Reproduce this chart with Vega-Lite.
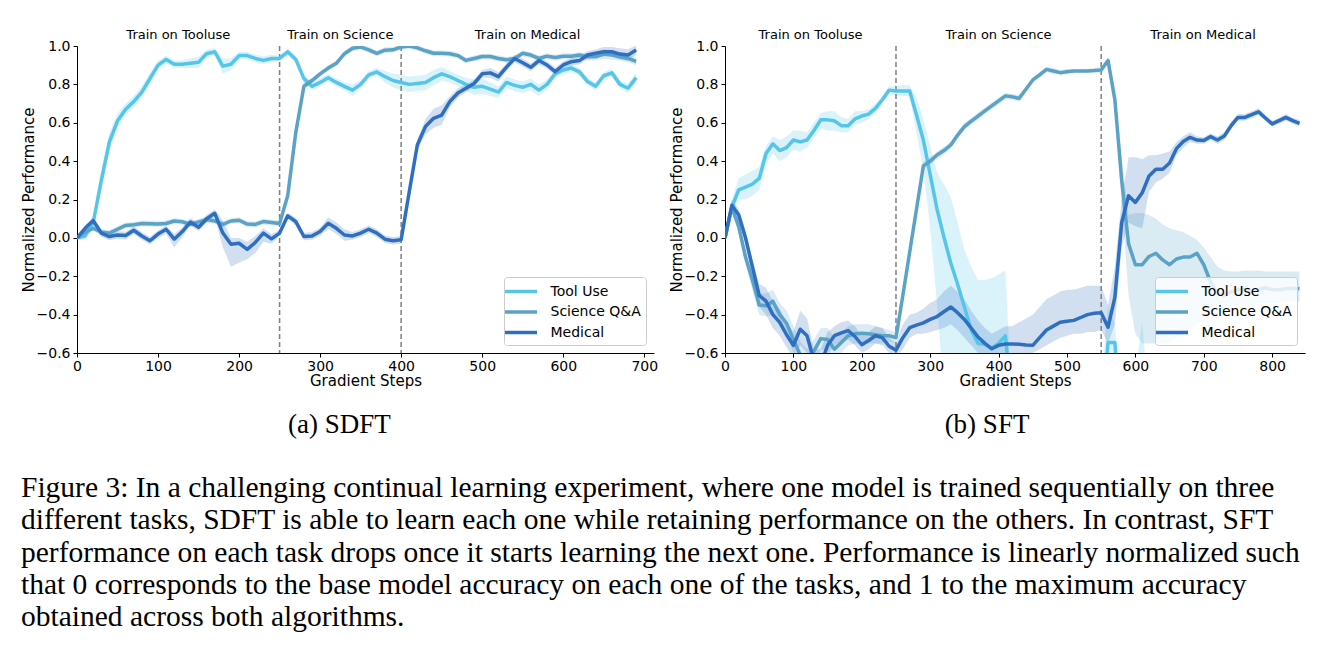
{
"$schema": "https://vega.github.io/schema/vega-lite/v6.json",
"background": "white",
"padding": {"left": 21, "top": 29, "right": 10, "bottom": 5},
"spacing": 11,
"resolve": {"scale": {"color": "independent", "fill": "independent"}, "legend": {"color": "independent", "fill": "independent"}},
"config": {
  "view": {"stroke": null},
  "axis": {"domainColor": "black", "tickColor": "black", "labelColor": "black", "titleColor": "black", "labelFont": "DejaVu Sans", "titleFont": "DejaVu Sans", "labelFontSize": 14, "titleFontSize": 15, "titleFontWeight": "normal", "grid": false, "tickSize": 4, "domainWidth": 1, "tickWidth": 1, "labelPadding": 3, "labelFlush": false, "labelOverlap": false},
  "legend": {"orient": "bottom-right", "offset": 8, "fillColor": "rgba(255,255,255,0.8)", "strokeColor": "#cccccc", "cornerRadius": 3, "padding": 5, "labelFont": "DejaVu Sans", "labelFontSize": 14, "labelColor": "black", "symbolType": "M-2.13,0H2.13", "symbolSize": 225, "symbolStrokeWidth": 3.5, "symbolOffset": 2.5, "labelOffset": 20, "rowPadding": 3.5},
  "title": {"font": "Liberation Serif", "fontSize": 27, "fontWeight": "normal", "color": "black"}
},
"title": {"text": ["Figure 3: In a challenging continual learning experiment, where one model is trained sequentially on three", "different tasks, SDFT is able to learn each one while retaining performance on the others. In contrast, SFT", "performance on each task drops once it starts learning the next one. Performance is linearly normalized such", "that 0 corresponds to the base model accuracy on each one of the tasks, and 1 to the maximum accuracy", "obtained across both algorithms."], "orient": "bottom", "anchor": "start", "frame": "bounds", "offset": 36, "lineHeight": 32.3, "fontSize": 29.5},
"datasets": {
"va": [{"x": 250}, {"x": 400}],
"vb": [{"x": 250}, {"x": 550}],
"ra": [{"x": 125, "l": "Train on Tooluse"}, {"x": 325, "l": "Train on Science"}, {"x": 556, "l": "Train on Medical"}],
"rb": [{"x": 125, "l": "Train on Tooluse"}, {"x": 400, "l": "Train on Science"}, {"x": 699, "l": "Train on Medical"}],
"a": [
{"t":"Tool Use","x":0,"y":0,"lo":-0.01,"hi":0.01},
{"t":"Tool Use","x":10,"y":0.01,"lo":-0.01,"hi":0.03},
{"t":"Tool Use","x":20,"y":0.08,"lo":0.05,"hi":0.11},
{"t":"Tool Use","x":30,"y":0.30,"lo":0.25,"hi":0.35},
{"t":"Tool Use","x":40,"y":0.50,"lo":0.45,"hi":0.55},
{"t":"Tool Use","x":50,"y":0.61,"lo":0.57,"hi":0.65},
{"t":"Tool Use","x":60,"y":0.67,"lo":0.64,"hi":0.70},
{"t":"Tool Use","x":70,"y":0.71,"lo":0.68,"hi":0.74},
{"t":"Tool Use","x":80,"y":0.76,"lo":0.73,"hi":0.79},
{"t":"Tool Use","x":90,"y":0.83,"lo":0.80,"hi":0.86},
{"t":"Tool Use","x":100,"y":0.90,"lo":0.875,"hi":0.925},
{"t":"Tool Use","x":110,"y":0.93,"lo":0.91,"hi":0.95},
{"t":"Tool Use","x":120,"y":0.905,"lo":0.885,"hi":0.925},
{"t":"Tool Use","x":130,"y":0.905,"lo":0.885,"hi":0.925},
{"t":"Tool Use","x":140,"y":0.91,"lo":0.885,"hi":0.935},
{"t":"Tool Use","x":150,"y":0.915,"lo":0.885,"hi":0.945},
{"t":"Tool Use","x":160,"y":0.96,"lo":0.94,"hi":0.98},
{"t":"Tool Use","x":170,"y":0.97,"lo":0.95,"hi":0.99},
{"t":"Tool Use","x":180,"y":0.895,"lo":0.855,"hi":0.935},
{"t":"Tool Use","x":190,"y":0.905,"lo":0.875,"hi":0.935},
{"t":"Tool Use","x":200,"y":0.95,"lo":0.93,"hi":0.97},
{"t":"Tool Use","x":210,"y":0.95,"lo":0.93,"hi":0.97},
{"t":"Tool Use","x":220,"y":0.935,"lo":0.915,"hi":0.955},
{"t":"Tool Use","x":230,"y":0.925,"lo":0.905,"hi":0.945},
{"t":"Tool Use","x":240,"y":0.935,"lo":0.915,"hi":0.955},
{"t":"Tool Use","x":250,"y":0.935,"lo":0.92,"hi":0.95},
{"t":"Tool Use","x":260,"y":0.97,"lo":0.955,"hi":0.985},
{"t":"Tool Use","x":270,"y":0.93,"lo":0.91,"hi":0.95},
{"t":"Tool Use","x":280,"y":0.83,"lo":0.81,"hi":0.85},
{"t":"Tool Use","x":290,"y":0.79,"lo":0.77,"hi":0.81},
{"t":"Tool Use","x":300,"y":0.81,"lo":0.79,"hi":0.83},
{"t":"Tool Use","x":310,"y":0.835,"lo":0.815,"hi":0.855},
{"t":"Tool Use","x":320,"y":0.81,"lo":0.79,"hi":0.83},
{"t":"Tool Use","x":330,"y":0.79,"lo":0.77,"hi":0.81},
{"t":"Tool Use","x":340,"y":0.77,"lo":0.74,"hi":0.80},
{"t":"Tool Use","x":350,"y":0.80,"lo":0.78,"hi":0.82},
{"t":"Tool Use","x":360,"y":0.85,"lo":0.83,"hi":0.87},
{"t":"Tool Use","x":370,"y":0.865,"lo":0.845,"hi":0.885},
{"t":"Tool Use","x":380,"y":0.84,"lo":0.81,"hi":0.87},
{"t":"Tool Use","x":390,"y":0.82,"lo":0.785,"hi":0.855},
{"t":"Tool Use","x":400,"y":0.81,"lo":0.77,"hi":0.85},
{"t":"Tool Use","x":410,"y":0.80,"lo":0.76,"hi":0.84},
{"t":"Tool Use","x":420,"y":0.805,"lo":0.765,"hi":0.845},
{"t":"Tool Use","x":430,"y":0.81,"lo":0.77,"hi":0.85},
{"t":"Tool Use","x":440,"y":0.835,"lo":0.795,"hi":0.875},
{"t":"Tool Use","x":450,"y":0.855,"lo":0.82,"hi":0.89},
{"t":"Tool Use","x":460,"y":0.84,"lo":0.81,"hi":0.87},
{"t":"Tool Use","x":470,"y":0.82,"lo":0.79,"hi":0.85},
{"t":"Tool Use","x":480,"y":0.80,"lo":0.765,"hi":0.835},
{"t":"Tool Use","x":490,"y":0.785,"lo":0.745,"hi":0.825},
{"t":"Tool Use","x":500,"y":0.79,"lo":0.75,"hi":0.83},
{"t":"Tool Use","x":510,"y":0.775,"lo":0.74,"hi":0.81},
{"t":"Tool Use","x":520,"y":0.76,"lo":0.73,"hi":0.79},
{"t":"Tool Use","x":530,"y":0.81,"lo":0.78,"hi":0.84},
{"t":"Tool Use","x":540,"y":0.795,"lo":0.765,"hi":0.825},
{"t":"Tool Use","x":550,"y":0.785,"lo":0.755,"hi":0.815},
{"t":"Tool Use","x":560,"y":0.80,"lo":0.77,"hi":0.83},
{"t":"Tool Use","x":570,"y":0.77,"lo":0.74,"hi":0.80},
{"t":"Tool Use","x":580,"y":0.80,"lo":0.775,"hi":0.825},
{"t":"Tool Use","x":590,"y":0.855,"lo":0.835,"hi":0.875},
{"t":"Tool Use","x":600,"y":0.875,"lo":0.855,"hi":0.895},
{"t":"Tool Use","x":610,"y":0.885,"lo":0.865,"hi":0.905},
{"t":"Tool Use","x":620,"y":0.865,"lo":0.845,"hi":0.885},
{"t":"Tool Use","x":630,"y":0.815,"lo":0.795,"hi":0.835},
{"t":"Tool Use","x":640,"y":0.79,"lo":0.77,"hi":0.81},
{"t":"Tool Use","x":650,"y":0.845,"lo":0.825,"hi":0.865},
{"t":"Tool Use","x":660,"y":0.86,"lo":0.84,"hi":0.88},
{"t":"Tool Use","x":670,"y":0.80,"lo":0.78,"hi":0.82},
{"t":"Tool Use","x":680,"y":0.78,"lo":0.755,"hi":0.805},
{"t":"Tool Use","x":690,"y":0.835,"lo":0.81,"hi":0.86},
{"t":"Science Q&A","x":0,"y":0,"lo":-0.01,"hi":0.01},
{"t":"Science Q&A","x":10,"y":0.03,"lo":0.015,"hi":0.045},
{"t":"Science Q&A","x":20,"y":0.05,"lo":0.035,"hi":0.065},
{"t":"Science Q&A","x":30,"y":0.03,"lo":0.015,"hi":0.045},
{"t":"Science Q&A","x":40,"y":0.025,"lo":0.01,"hi":0.04},
{"t":"Science Q&A","x":50,"y":0.045,"lo":0.03,"hi":0.06},
{"t":"Science Q&A","x":60,"y":0.065,"lo":0.05,"hi":0.08},
{"t":"Science Q&A","x":70,"y":0.068,"lo":0.053,"hi":0.083},
{"t":"Science Q&A","x":80,"y":0.075,"lo":0.06,"hi":0.09},
{"t":"Science Q&A","x":90,"y":0.074,"lo":0.059,"hi":0.089},
{"t":"Science Q&A","x":100,"y":0.072,"lo":0.057,"hi":0.087},
{"t":"Science Q&A","x":110,"y":0.075,"lo":0.06,"hi":0.09},
{"t":"Science Q&A","x":120,"y":0.088,"lo":0.073,"hi":0.103},
{"t":"Science Q&A","x":130,"y":0.084,"lo":0.069,"hi":0.099},
{"t":"Science Q&A","x":140,"y":0.07,"lo":0.055,"hi":0.085},
{"t":"Science Q&A","x":150,"y":0.083,"lo":0.068,"hi":0.098},
{"t":"Science Q&A","x":160,"y":0.095,"lo":0.08,"hi":0.11},
{"t":"Science Q&A","x":170,"y":0.088,"lo":0.073,"hi":0.103},
{"t":"Science Q&A","x":180,"y":0.07,"lo":0.055,"hi":0.085},
{"t":"Science Q&A","x":190,"y":0.088,"lo":0.073,"hi":0.103},
{"t":"Science Q&A","x":200,"y":0.092,"lo":0.077,"hi":0.107},
{"t":"Science Q&A","x":210,"y":0.072,"lo":0.057,"hi":0.087},
{"t":"Science Q&A","x":220,"y":0.07,"lo":0.055,"hi":0.085},
{"t":"Science Q&A","x":230,"y":0.085,"lo":0.07,"hi":0.1},
{"t":"Science Q&A","x":240,"y":0.08,"lo":0.065,"hi":0.095},
{"t":"Science Q&A","x":250,"y":0.075,"lo":0.06,"hi":0.09},
{"t":"Science Q&A","x":260,"y":0.22,"lo":0.19,"hi":0.25},
{"t":"Science Q&A","x":270,"y":0.55,"lo":0.52,"hi":0.58},
{"t":"Science Q&A","x":280,"y":0.79,"lo":0.77,"hi":0.81},
{"t":"Science Q&A","x":290,"y":0.82,"lo":0.805,"hi":0.835},
{"t":"Science Q&A","x":300,"y":0.855,"lo":0.84,"hi":0.87},
{"t":"Science Q&A","x":310,"y":0.885,"lo":0.87,"hi":0.9},
{"t":"Science Q&A","x":320,"y":0.91,"lo":0.895,"hi":0.925},
{"t":"Science Q&A","x":330,"y":0.96,"lo":0.945,"hi":0.975},
{"t":"Science Q&A","x":340,"y":0.988,"lo":0.973,"hi":1.003},
{"t":"Science Q&A","x":350,"y":0.995,"lo":0.98,"hi":1.01},
{"t":"Science Q&A","x":360,"y":0.98,"lo":0.965,"hi":0.995},
{"t":"Science Q&A","x":370,"y":0.962,"lo":0.947,"hi":0.977},
{"t":"Science Q&A","x":380,"y":0.978,"lo":0.963,"hi":0.993},
{"t":"Science Q&A","x":390,"y":0.98,"lo":0.965,"hi":0.995},
{"t":"Science Q&A","x":400,"y":0.995,"lo":0.98,"hi":1.01},
{"t":"Science Q&A","x":410,"y":1.0,"lo":0.985,"hi":1.015},
{"t":"Science Q&A","x":420,"y":0.99,"lo":0.975,"hi":1.005},
{"t":"Science Q&A","x":430,"y":0.975,"lo":0.96,"hi":0.99},
{"t":"Science Q&A","x":440,"y":0.962,"lo":0.947,"hi":0.977},
{"t":"Science Q&A","x":450,"y":0.962,"lo":0.947,"hi":0.977},
{"t":"Science Q&A","x":460,"y":0.96,"lo":0.945,"hi":0.975},
{"t":"Science Q&A","x":470,"y":0.95,"lo":0.935,"hi":0.965},
{"t":"Science Q&A","x":480,"y":0.925,"lo":0.91,"hi":0.94},
{"t":"Science Q&A","x":490,"y":0.935,"lo":0.92,"hi":0.95},
{"t":"Science Q&A","x":500,"y":0.945,"lo":0.93,"hi":0.96},
{"t":"Science Q&A","x":510,"y":0.945,"lo":0.93,"hi":0.96},
{"t":"Science Q&A","x":520,"y":0.935,"lo":0.92,"hi":0.95},
{"t":"Science Q&A","x":530,"y":0.928,"lo":0.913,"hi":0.943},
{"t":"Science Q&A","x":540,"y":0.935,"lo":0.92,"hi":0.95},
{"t":"Science Q&A","x":550,"y":0.962,"lo":0.947,"hi":0.977},
{"t":"Science Q&A","x":560,"y":0.953,"lo":0.938,"hi":0.968},
{"t":"Science Q&A","x":570,"y":0.935,"lo":0.92,"hi":0.95},
{"t":"Science Q&A","x":580,"y":0.947,"lo":0.932,"hi":0.962},
{"t":"Science Q&A","x":590,"y":0.94,"lo":0.925,"hi":0.955},
{"t":"Science Q&A","x":600,"y":0.947,"lo":0.932,"hi":0.962},
{"t":"Science Q&A","x":610,"y":0.947,"lo":0.932,"hi":0.962},
{"t":"Science Q&A","x":620,"y":0.953,"lo":0.938,"hi":0.968},
{"t":"Science Q&A","x":630,"y":0.944,"lo":0.924,"hi":0.964},
{"t":"Science Q&A","x":640,"y":0.944,"lo":0.924,"hi":0.964},
{"t":"Science Q&A","x":650,"y":0.958,"lo":0.933,"hi":0.983},
{"t":"Science Q&A","x":660,"y":0.953,"lo":0.928,"hi":0.978},
{"t":"Science Q&A","x":670,"y":0.944,"lo":0.924,"hi":0.964},
{"t":"Science Q&A","x":680,"y":0.935,"lo":0.915,"hi":0.955},
{"t":"Science Q&A","x":690,"y":0.92,"lo":0.9,"hi":0.94},
{"t":"Medical","x":0,"y":0,"lo":-0.01,"hi":0.01},
{"t":"Medical","x":10,"y":0.05,"lo":0.035,"hi":0.065},
{"t":"Medical","x":20,"y":0.09,"lo":0.07,"hi":0.11},
{"t":"Medical","x":30,"y":0.025,"lo":0.005,"hi":0.045},
{"t":"Medical","x":40,"y":0.007,"lo":-0.013,"hi":0.027},
{"t":"Medical","x":50,"y":0.015,"lo":-0.005,"hi":0.035},
{"t":"Medical","x":60,"y":0.012,"lo":-0.008,"hi":0.032},
{"t":"Medical","x":70,"y":0.04,"lo":0.02,"hi":0.06},
{"t":"Medical","x":80,"y":0.01,"lo":-0.01,"hi":0.03},
{"t":"Medical","x":90,"y":-0.015,"lo":-0.035,"hi":0.005},
{"t":"Medical","x":100,"y":0.02,"lo":0.0,"hi":0.04},
{"t":"Medical","x":110,"y":0.045,"lo":0.02,"hi":0.065},
{"t":"Medical","x":120,"y":-0.007,"lo":-0.05,"hi":0.02},
{"t":"Medical","x":130,"y":0.033,"lo":0.005,"hi":0.055},
{"t":"Medical","x":140,"y":0.083,"lo":0.063,"hi":0.103},
{"t":"Medical","x":150,"y":0.055,"lo":0.035,"hi":0.075},
{"t":"Medical","x":160,"y":0.10,"lo":0.08,"hi":0.12},
{"t":"Medical","x":170,"y":0.128,"lo":0.108,"hi":0.148},
{"t":"Medical","x":180,"y":0.025,"lo":-0.05,"hi":0.09},
{"t":"Medical","x":190,"y":-0.033,"lo":-0.15,"hi":0.0},
{"t":"Medical","x":200,"y":-0.028,"lo":-0.13,"hi":0.0},
{"t":"Medical","x":210,"y":-0.06,"lo":-0.11,"hi":-0.02},
{"t":"Medical","x":220,"y":-0.024,"lo":-0.08,"hi":0.01},
{"t":"Medical","x":230,"y":0.025,"lo":-0.02,"hi":0.05},
{"t":"Medical","x":240,"y":-0.005,"lo":-0.03,"hi":0.02},
{"t":"Medical","x":250,"y":0.025,"lo":0.01,"hi":0.04},
{"t":"Medical","x":260,"y":0.115,"lo":0.1,"hi":0.13},
{"t":"Medical","x":270,"y":0.085,"lo":0.065,"hi":0.105},
{"t":"Medical","x":280,"y":0.007,"lo":-0.013,"hi":0.027},
{"t":"Medical","x":290,"y":0.01,"lo":-0.01,"hi":0.03},
{"t":"Medical","x":300,"y":0.033,"lo":0.013,"hi":0.053},
{"t":"Medical","x":310,"y":0.076,"lo":0.046,"hi":0.106},
{"t":"Medical","x":320,"y":0.05,"lo":0.02,"hi":0.08},
{"t":"Medical","x":330,"y":0.015,"lo":-0.015,"hi":0.045},
{"t":"Medical","x":340,"y":0.01,"lo":-0.01,"hi":0.03},
{"t":"Medical","x":350,"y":0.025,"lo":0.005,"hi":0.045},
{"t":"Medical","x":360,"y":0.045,"lo":0.025,"hi":0.065},
{"t":"Medical","x":370,"y":0.025,"lo":0.005,"hi":0.045},
{"t":"Medical","x":380,"y":-0.007,"lo":-0.027,"hi":0.013},
{"t":"Medical","x":390,"y":-0.015,"lo":-0.035,"hi":0.005},
{"t":"Medical","x":400,"y":-0.01,"lo":-0.03,"hi":0.01},
{"t":"Medical","x":410,"y":0.24,"lo":0.21,"hi":0.27},
{"t":"Medical","x":420,"y":0.485,"lo":0.455,"hi":0.515},
{"t":"Medical","x":430,"y":0.58,"lo":0.54,"hi":0.62},
{"t":"Medical","x":440,"y":0.623,"lo":0.573,"hi":0.673},
{"t":"Medical","x":450,"y":0.64,"lo":0.59,"hi":0.69},
{"t":"Medical","x":460,"y":0.71,"lo":0.68,"hi":0.74},
{"t":"Medical","x":470,"y":0.755,"lo":0.73,"hi":0.78},
{"t":"Medical","x":480,"y":0.78,"lo":0.76,"hi":0.80},
{"t":"Medical","x":490,"y":0.805,"lo":0.785,"hi":0.825},
{"t":"Medical","x":500,"y":0.855,"lo":0.835,"hi":0.875},
{"t":"Medical","x":510,"y":0.86,"lo":0.835,"hi":0.885},
{"t":"Medical","x":520,"y":0.84,"lo":0.815,"hi":0.865},
{"t":"Medical","x":530,"y":0.89,"lo":0.87,"hi":0.91},
{"t":"Medical","x":540,"y":0.935,"lo":0.915,"hi":0.955},
{"t":"Medical","x":550,"y":0.913,"lo":0.893,"hi":0.933},
{"t":"Medical","x":560,"y":0.889,"lo":0.869,"hi":0.909},
{"t":"Medical","x":570,"y":0.924,"lo":0.904,"hi":0.944},
{"t":"Medical","x":580,"y":0.901,"lo":0.881,"hi":0.921},
{"t":"Medical","x":590,"y":0.866,"lo":0.846,"hi":0.886},
{"t":"Medical","x":600,"y":0.901,"lo":0.881,"hi":0.921},
{"t":"Medical","x":610,"y":0.918,"lo":0.898,"hi":0.938},
{"t":"Medical","x":620,"y":0.924,"lo":0.904,"hi":0.944},
{"t":"Medical","x":630,"y":0.953,"lo":0.933,"hi":0.973},
{"t":"Medical","x":640,"y":0.962,"lo":0.942,"hi":0.982},
{"t":"Medical","x":650,"y":0.97,"lo":0.945,"hi":0.995},
{"t":"Medical","x":660,"y":0.97,"lo":0.945,"hi":0.995},
{"t":"Medical","x":670,"y":0.958,"lo":0.928,"hi":0.988},
{"t":"Medical","x":680,"y":0.953,"lo":0.923,"hi":0.983},
{"t":"Medical","x":690,"y":0.979,"lo":0.954,"hi":1.004}
],
"b": [
{"t":"Tool Use","x":0,"y":0,"lo":-0.02,"hi":0.02},
{"t":"Tool Use","x":10,"y":0.16,"lo":0.12,"hi":0.20},
{"t":"Tool Use","x":20,"y":0.25,"lo":0.20,"hi":0.31},
{"t":"Tool Use","x":30,"y":0.265,"lo":0.20,"hi":0.33},
{"t":"Tool Use","x":40,"y":0.28,"lo":0.22,"hi":0.35},
{"t":"Tool Use","x":50,"y":0.31,"lo":0.25,"hi":0.37},
{"t":"Tool Use","x":60,"y":0.44,"lo":0.38,"hi":0.48},
{"t":"Tool Use","x":70,"y":0.49,"lo":0.44,"hi":0.53},
{"t":"Tool Use","x":80,"y":0.455,"lo":0.40,"hi":0.51},
{"t":"Tool Use","x":90,"y":0.47,"lo":0.42,"hi":0.53},
{"t":"Tool Use","x":100,"y":0.51,"lo":0.46,"hi":0.56},
{"t":"Tool Use","x":110,"y":0.50,"lo":0.45,"hi":0.56},
{"t":"Tool Use","x":120,"y":0.51,"lo":0.47,"hi":0.55},
{"t":"Tool Use","x":130,"y":0.56,"lo":0.52,"hi":0.60},
{"t":"Tool Use","x":140,"y":0.615,"lo":0.57,"hi":0.65},
{"t":"Tool Use","x":150,"y":0.615,"lo":0.56,"hi":0.66},
{"t":"Tool Use","x":160,"y":0.61,"lo":0.56,"hi":0.66},
{"t":"Tool Use","x":170,"y":0.585,"lo":0.55,"hi":0.63},
{"t":"Tool Use","x":180,"y":0.585,"lo":0.55,"hi":0.62},
{"t":"Tool Use","x":190,"y":0.62,"lo":0.59,"hi":0.66},
{"t":"Tool Use","x":200,"y":0.635,"lo":0.60,"hi":0.66},
{"t":"Tool Use","x":210,"y":0.645,"lo":0.62,"hi":0.67},
{"t":"Tool Use","x":220,"y":0.675,"lo":0.65,"hi":0.70},
{"t":"Tool Use","x":230,"y":0.72,"lo":0.70,"hi":0.74},
{"t":"Tool Use","x":240,"y":0.77,"lo":0.75,"hi":0.79},
{"t":"Tool Use","x":250,"y":0.765,"lo":0.74,"hi":0.79},
{"t":"Tool Use","x":260,"y":0.765,"lo":0.74,"hi":0.795},
{"t":"Tool Use","x":270,"y":0.765,"lo":0.74,"hi":0.795},
{"t":"Tool Use","x":280,"y":0.64,"lo":0.55,"hi":0.73},
{"t":"Tool Use","x":290,"y":0.51,"lo":0.35,"hi":0.62},
{"t":"Tool Use","x":300,"y":0.33,"lo":0.05,"hi":0.48},
{"t":"Tool Use","x":310,"y":0.15,"lo":-0.35,"hi":0.34},
{"t":"Tool Use","x":320,"y":0.005,"lo":-0.8,"hi":0.28},
{"t":"Tool Use","x":330,"y":-0.13,"lo":-1,"hi":0.21},
{"t":"Tool Use","x":340,"y":-0.24,"lo":-1,"hi":0.08},
{"t":"Tool Use","x":350,"y":-0.36,"lo":-1,"hi":-0.06},
{"t":"Tool Use","x":360,"y":-0.48,"lo":-1,"hi":-0.15},
{"t":"Tool Use","x":370,"y":-0.55,"lo":-1,"hi":-0.22},
{"t":"Tool Use","x":380,"y":-0.555,"lo":-1,"hi":-0.22},
{"t":"Tool Use","x":390,"y":-0.575,"lo":-1,"hi":-0.21},
{"t":"Tool Use","x":400,"y":-0.55,"lo":-1,"hi":-0.19},
{"t":"Tool Use","x":410,"y":-0.51,"lo":-1,"hi":-0.17},
{"t":"Tool Use","x":420,"y":-0.9,"lo":-1,"hi":-0.9},
{"t":"Tool Use","x":430,"y":-1,"lo":-1,"hi":-1},
{"t":"Tool Use","x":440,"y":-1,"lo":-1,"hi":-1},
{"t":"Tool Use","x":450,"y":-1,"lo":-1,"hi":-1},
{"t":"Tool Use","x":460,"y":-1,"lo":-1,"hi":-1},
{"t":"Tool Use","x":470,"y":-1,"lo":-1,"hi":-1},
{"t":"Tool Use","x":480,"y":-1,"lo":-1,"hi":-1},
{"t":"Tool Use","x":490,"y":-1,"lo":-1,"hi":-1},
{"t":"Tool Use","x":500,"y":-1,"lo":-1,"hi":-1},
{"t":"Tool Use","x":510,"y":-1,"lo":-1,"hi":-1},
{"t":"Tool Use","x":520,"y":-1,"lo":-1,"hi":-1},
{"t":"Tool Use","x":530,"y":-1,"lo":-1,"hi":-1},
{"t":"Tool Use","x":540,"y":-1,"lo":-1,"hi":-1},
{"t":"Tool Use","x":550,"y":-1,"lo":-1,"hi":-0.75},
{"t":"Tool Use","x":560,"y":-0.545,"lo":-1,"hi":-0.35},
{"t":"Tool Use","x":570,"y":-0.545,"lo":-1,"hi":-0.45},
{"t":"Tool Use","x":580,"y":-1,"lo":-1,"hi":-0.9},
{"t":"Tool Use","x":590,"y":-1,"lo":-1,"hi":-0.9},
{"t":"Tool Use","x":600,"y":-1,"lo":-1,"hi":-0.7},
{"t":"Tool Use","x":610,"y":-1,"lo":-1,"hi":-0.44},
{"t":"Tool Use","x":620,"y":-1,"lo":-1,"hi":-0.85},
{"t":"Tool Use","x":630,"y":-1,"lo":-1,"hi":-1},
{"t":"Tool Use","x":640,"y":-1,"lo":-1,"hi":-1},
{"t":"Tool Use","x":650,"y":-1,"lo":-1,"hi":-1},
{"t":"Tool Use","x":660,"y":-1,"lo":-1,"hi":-1},
{"t":"Tool Use","x":670,"y":-1,"lo":-1,"hi":-1},
{"t":"Tool Use","x":680,"y":-1,"lo":-1,"hi":-1},
{"t":"Tool Use","x":690,"y":-1,"lo":-1,"hi":-1},
{"t":"Tool Use","x":700,"y":-1,"lo":-1,"hi":-1},
{"t":"Tool Use","x":710,"y":-1,"lo":-1,"hi":-1},
{"t":"Tool Use","x":720,"y":-1,"lo":-1,"hi":-1},
{"t":"Tool Use","x":730,"y":-1,"lo":-1,"hi":-1},
{"t":"Tool Use","x":740,"y":-1,"lo":-1,"hi":-1},
{"t":"Tool Use","x":750,"y":-1,"lo":-1,"hi":-1},
{"t":"Tool Use","x":760,"y":-1,"lo":-1,"hi":-1},
{"t":"Tool Use","x":770,"y":-1,"lo":-1,"hi":-1},
{"t":"Tool Use","x":780,"y":-1,"lo":-1,"hi":-1},
{"t":"Tool Use","x":790,"y":-1,"lo":-1,"hi":-1},
{"t":"Tool Use","x":800,"y":-1,"lo":-1,"hi":-1},
{"t":"Tool Use","x":810,"y":-1,"lo":-1,"hi":-1},
{"t":"Tool Use","x":820,"y":-1,"lo":-1,"hi":-1},
{"t":"Tool Use","x":830,"y":-1,"lo":-1,"hi":-1},
{"t":"Tool Use","x":840,"y":-1,"lo":-1,"hi":-1},
{"t":"Science Q&A","x":0,"y":0,"lo":-0.02,"hi":0.02},
{"t":"Science Q&A","x":10,"y":0.16,"lo":0.13,"hi":0.19},
{"t":"Science Q&A","x":20,"y":0.06,"lo":0.02,"hi":0.10},
{"t":"Science Q&A","x":30,"y":-0.10,"lo":-0.14,"hi":-0.06},
{"t":"Science Q&A","x":40,"y":-0.22,"lo":-0.27,"hi":-0.17},
{"t":"Science Q&A","x":50,"y":-0.35,"lo":-0.40,"hi":-0.29},
{"t":"Science Q&A","x":60,"y":-0.354,"lo":-0.41,"hi":-0.29},
{"t":"Science Q&A","x":70,"y":-0.33,"lo":-0.40,"hi":-0.27},
{"t":"Science Q&A","x":80,"y":-0.40,"lo":-0.46,"hi":-0.34},
{"t":"Science Q&A","x":90,"y":-0.445,"lo":-0.51,"hi":-0.38},
{"t":"Science Q&A","x":100,"y":-0.53,"lo":-0.60,"hi":-0.46},
{"t":"Science Q&A","x":110,"y":-0.61,"lo":-0.68,"hi":-0.54},
{"t":"Science Q&A","x":120,"y":-0.65,"lo":-0.72,"hi":-0.58},
{"t":"Science Q&A","x":130,"y":-0.59,"lo":-0.66,"hi":-0.53},
{"t":"Science Q&A","x":140,"y":-0.525,"lo":-0.58,"hi":-0.47},
{"t":"Science Q&A","x":150,"y":-0.53,"lo":-0.59,"hi":-0.47},
{"t":"Science Q&A","x":160,"y":-0.58,"lo":-0.64,"hi":-0.52},
{"t":"Science Q&A","x":170,"y":-0.545,"lo":-0.60,"hi":-0.49},
{"t":"Science Q&A","x":180,"y":-0.51,"lo":-0.56,"hi":-0.46},
{"t":"Science Q&A","x":190,"y":-0.50,"lo":-0.55,"hi":-0.45},
{"t":"Science Q&A","x":200,"y":-0.497,"lo":-0.55,"hi":-0.45},
{"t":"Science Q&A","x":210,"y":-0.50,"lo":-0.55,"hi":-0.45},
{"t":"Science Q&A","x":220,"y":-0.505,"lo":-0.55,"hi":-0.46},
{"t":"Science Q&A","x":230,"y":-0.51,"lo":-0.55,"hi":-0.47},
{"t":"Science Q&A","x":240,"y":-0.51,"lo":-0.54,"hi":-0.48},
{"t":"Science Q&A","x":250,"y":-0.52,"lo":-0.55,"hi":-0.49},
{"t":"Science Q&A","x":260,"y":-0.30,"lo":-0.33,"hi":-0.27},
{"t":"Science Q&A","x":270,"y":-0.075,"lo":-0.10,"hi":-0.05},
{"t":"Science Q&A","x":280,"y":0.15,"lo":0.13,"hi":0.17},
{"t":"Science Q&A","x":290,"y":0.375,"lo":0.355,"hi":0.395},
{"t":"Science Q&A","x":300,"y":0.40,"lo":0.38,"hi":0.42},
{"t":"Science Q&A","x":310,"y":0.432,"lo":0.41,"hi":0.45},
{"t":"Science Q&A","x":320,"y":0.455,"lo":0.435,"hi":0.475},
{"t":"Science Q&A","x":330,"y":0.484,"lo":0.465,"hi":0.50},
{"t":"Science Q&A","x":340,"y":0.535,"lo":0.515,"hi":0.555},
{"t":"Science Q&A","x":350,"y":0.58,"lo":0.56,"hi":0.60},
{"t":"Science Q&A","x":360,"y":0.608,"lo":0.59,"hi":0.625},
{"t":"Science Q&A","x":370,"y":0.635,"lo":0.615,"hi":0.655},
{"t":"Science Q&A","x":380,"y":0.662,"lo":0.645,"hi":0.68},
{"t":"Science Q&A","x":390,"y":0.688,"lo":0.67,"hi":0.705},
{"t":"Science Q&A","x":400,"y":0.714,"lo":0.695,"hi":0.73},
{"t":"Science Q&A","x":410,"y":0.74,"lo":0.72,"hi":0.755},
{"t":"Science Q&A","x":420,"y":0.735,"lo":0.72,"hi":0.75},
{"t":"Science Q&A","x":430,"y":0.727,"lo":0.71,"hi":0.745},
{"t":"Science Q&A","x":440,"y":0.775,"lo":0.76,"hi":0.79},
{"t":"Science Q&A","x":450,"y":0.823,"lo":0.81,"hi":0.835},
{"t":"Science Q&A","x":460,"y":0.85,"lo":0.835,"hi":0.865},
{"t":"Science Q&A","x":470,"y":0.878,"lo":0.865,"hi":0.89},
{"t":"Science Q&A","x":480,"y":0.87,"lo":0.855,"hi":0.885},
{"t":"Science Q&A","x":490,"y":0.861,"lo":0.85,"hi":0.875},
{"t":"Science Q&A","x":500,"y":0.866,"lo":0.855,"hi":0.88},
{"t":"Science Q&A","x":510,"y":0.87,"lo":0.86,"hi":0.88},
{"t":"Science Q&A","x":520,"y":0.87,"lo":0.86,"hi":0.88},
{"t":"Science Q&A","x":530,"y":0.87,"lo":0.86,"hi":0.88},
{"t":"Science Q&A","x":540,"y":0.872,"lo":0.86,"hi":0.885},
{"t":"Science Q&A","x":550,"y":0.875,"lo":0.86,"hi":0.89},
{"t":"Science Q&A","x":560,"y":0.925,"lo":0.91,"hi":0.94},
{"t":"Science Q&A","x":570,"y":0.72,"lo":0.66,"hi":0.78},
{"t":"Science Q&A","x":580,"y":0.30,"lo":0.18,"hi":0.42},
{"t":"Science Q&A","x":590,"y":-0.03,"lo":-0.3,"hi":0.12},
{"t":"Science Q&A","x":600,"y":-0.14,"lo":-0.5,"hi":0.13},
{"t":"Science Q&A","x":610,"y":-0.14,"lo":-0.55,"hi":0.13},
{"t":"Science Q&A","x":620,"y":-0.097,"lo":-0.55,"hi":0.12},
{"t":"Science Q&A","x":630,"y":-0.08,"lo":-0.55,"hi":0.10},
{"t":"Science Q&A","x":640,"y":-0.115,"lo":-0.55,"hi":0.07},
{"t":"Science Q&A","x":650,"y":-0.14,"lo":-0.55,"hi":0.05},
{"t":"Science Q&A","x":660,"y":-0.11,"lo":-0.52,"hi":0.04},
{"t":"Science Q&A","x":670,"y":-0.10,"lo":-0.5,"hi":0.03},
{"t":"Science Q&A","x":680,"y":-0.10,"lo":-0.48,"hi":0.01},
{"t":"Science Q&A","x":690,"y":-0.08,"lo":-0.45,"hi":-0.01},
{"t":"Science Q&A","x":700,"y":-0.14,"lo":-0.43,"hi":-0.05},
{"t":"Science Q&A","x":710,"y":-0.23,"lo":-0.40,"hi":-0.10},
{"t":"Science Q&A","x":720,"y":-0.29,"lo":-0.38,"hi":-0.15},
{"t":"Science Q&A","x":730,"y":-0.30,"lo":-0.37,"hi":-0.17},
{"t":"Science Q&A","x":740,"y":-0.28,"lo":-0.36,"hi":-0.175},
{"t":"Science Q&A","x":750,"y":-0.27,"lo":-0.35,"hi":-0.175},
{"t":"Science Q&A","x":760,"y":-0.27,"lo":-0.35,"hi":-0.17},
{"t":"Science Q&A","x":770,"y":-0.28,"lo":-0.35,"hi":-0.17},
{"t":"Science Q&A","x":780,"y":-0.27,"lo":-0.34,"hi":-0.17},
{"t":"Science Q&A","x":790,"y":-0.26,"lo":-0.34,"hi":-0.175},
{"t":"Science Q&A","x":800,"y":-0.27,"lo":-0.34,"hi":-0.175},
{"t":"Science Q&A","x":810,"y":-0.27,"lo":-0.34,"hi":-0.175},
{"t":"Science Q&A","x":820,"y":-0.265,"lo":-0.33,"hi":-0.175},
{"t":"Science Q&A","x":830,"y":-0.262,"lo":-0.33,"hi":-0.175},
{"t":"Science Q&A","x":840,"y":-0.265,"lo":-0.33,"hi":-0.175},
{"t":"Medical","x":0,"y":0,"lo":-0.02,"hi":0.02},
{"t":"Medical","x":10,"y":0.17,"lo":0.14,"hi":0.20},
{"t":"Medical","x":20,"y":0.12,"lo":0.09,"hi":0.15},
{"t":"Medical","x":30,"y":0.0,"lo":-0.04,"hi":0.04},
{"t":"Medical","x":40,"y":-0.15,"lo":-0.19,"hi":-0.11},
{"t":"Medical","x":50,"y":-0.30,"lo":-0.36,"hi":-0.24},
{"t":"Medical","x":60,"y":-0.33,"lo":-0.40,"hi":-0.26},
{"t":"Medical","x":70,"y":-0.40,"lo":-0.47,"hi":-0.33},
{"t":"Medical","x":80,"y":-0.44,"lo":-0.51,"hi":-0.37},
{"t":"Medical","x":90,"y":-0.505,"lo":-0.57,"hi":-0.44},
{"t":"Medical","x":100,"y":-0.56,"lo":-0.63,"hi":-0.49},
{"t":"Medical","x":110,"y":-0.476,"lo":-0.56,"hi":-0.38},
{"t":"Medical","x":120,"y":-0.51,"lo":-0.60,"hi":-0.42},
{"t":"Medical","x":130,"y":-0.64,"lo":-0.72,"hi":-0.58},
{"t":"Medical","x":140,"y":-0.66,"lo":-0.72,"hi":-0.58},
{"t":"Medical","x":150,"y":-0.56,"lo":-0.61,"hi":-0.49},
{"t":"Medical","x":160,"y":-0.51,"lo":-0.56,"hi":-0.46},
{"t":"Medical","x":170,"y":-0.495,"lo":-0.55,"hi":-0.44},
{"t":"Medical","x":180,"y":-0.483,"lo":-0.53,"hi":-0.43},
{"t":"Medical","x":190,"y":-0.514,"lo":-0.56,"hi":-0.46},
{"t":"Medical","x":200,"y":-0.557,"lo":-0.60,"hi":-0.51},
{"t":"Medical","x":210,"y":-0.535,"lo":-0.58,"hi":-0.49},
{"t":"Medical","x":220,"y":-0.51,"lo":-0.55,"hi":-0.46},
{"t":"Medical","x":230,"y":-0.52,"lo":-0.56,"hi":-0.47},
{"t":"Medical","x":240,"y":-0.565,"lo":-0.60,"hi":-0.52},
{"t":"Medical","x":250,"y":-0.585,"lo":-0.62,"hi":-0.55},
{"t":"Medical","x":260,"y":-0.52,"lo":-0.58,"hi":-0.45},
{"t":"Medical","x":270,"y":-0.468,"lo":-0.52,"hi":-0.40},
{"t":"Medical","x":280,"y":-0.455,"lo":-0.50,"hi":-0.39},
{"t":"Medical","x":290,"y":-0.443,"lo":-0.50,"hi":-0.37},
{"t":"Medical","x":300,"y":-0.425,"lo":-0.49,"hi":-0.34},
{"t":"Medical","x":310,"y":-0.41,"lo":-0.48,"hi":-0.32},
{"t":"Medical","x":320,"y":-0.385,"lo":-0.47,"hi":-0.28},
{"t":"Medical","x":330,"y":-0.36,"lo":-0.45,"hi":-0.25},
{"t":"Medical","x":340,"y":-0.39,"lo":-0.48,"hi":-0.28},
{"t":"Medical","x":350,"y":-0.425,"lo":-0.52,"hi":-0.32},
{"t":"Medical","x":360,"y":-0.47,"lo":-0.56,"hi":-0.38},
{"t":"Medical","x":370,"y":-0.517,"lo":-0.60,"hi":-0.43},
{"t":"Medical","x":380,"y":-0.55,"lo":-0.62,"hi":-0.47},
{"t":"Medical","x":390,"y":-0.578,"lo":-0.64,"hi":-0.50},
{"t":"Medical","x":400,"y":-0.56,"lo":-0.62,"hi":-0.48},
{"t":"Medical","x":410,"y":-0.553,"lo":-0.62,"hi":-0.46},
{"t":"Medical","x":420,"y":-0.553,"lo":-0.62,"hi":-0.46},
{"t":"Medical","x":430,"y":-0.554,"lo":-0.61,"hi":-0.44},
{"t":"Medical","x":440,"y":-0.558,"lo":-0.60,"hi":-0.42},
{"t":"Medical","x":450,"y":-0.56,"lo":-0.60,"hi":-0.40},
{"t":"Medical","x":460,"y":-0.52,"lo":-0.58,"hi":-0.36},
{"t":"Medical","x":470,"y":-0.48,"lo":-0.56,"hi":-0.32},
{"t":"Medical","x":480,"y":-0.46,"lo":-0.54,"hi":-0.30},
{"t":"Medical","x":490,"y":-0.44,"lo":-0.52,"hi":-0.28},
{"t":"Medical","x":500,"y":-0.435,"lo":-0.51,"hi":-0.27},
{"t":"Medical","x":510,"y":-0.43,"lo":-0.50,"hi":-0.27},
{"t":"Medical","x":520,"y":-0.415,"lo":-0.50,"hi":-0.26},
{"t":"Medical","x":530,"y":-0.40,"lo":-0.49,"hi":-0.25},
{"t":"Medical","x":540,"y":-0.393,"lo":-0.49,"hi":-0.25},
{"t":"Medical","x":550,"y":-0.39,"lo":-0.48,"hi":-0.25},
{"t":"Medical","x":560,"y":-0.466,"lo":-0.55,"hi":-0.35},
{"t":"Medical","x":570,"y":-0.31,"lo":-0.45,"hi":-0.15},
{"t":"Medical","x":580,"y":0.08,"lo":-0.05,"hi":0.20},
{"t":"Medical","x":590,"y":0.22,"lo":0.08,"hi":0.42},
{"t":"Medical","x":600,"y":0.185,"lo":0.06,"hi":0.42},
{"t":"Medical","x":610,"y":0.235,"lo":0.05,"hi":0.41},
{"t":"Medical","x":620,"y":0.323,"lo":0.24,"hi":0.43},
{"t":"Medical","x":630,"y":0.358,"lo":0.29,"hi":0.43},
{"t":"Medical","x":640,"y":0.358,"lo":0.31,"hi":0.44},
{"t":"Medical","x":650,"y":0.39,"lo":0.34,"hi":0.45},
{"t":"Medical","x":660,"y":0.465,"lo":0.43,"hi":0.50},
{"t":"Medical","x":670,"y":0.502,"lo":0.47,"hi":0.53},
{"t":"Medical","x":680,"y":0.524,"lo":0.50,"hi":0.55},
{"t":"Medical","x":690,"y":0.51,"lo":0.49,"hi":0.53},
{"t":"Medical","x":700,"y":0.507,"lo":0.49,"hi":0.525},
{"t":"Medical","x":710,"y":0.528,"lo":0.51,"hi":0.545},
{"t":"Medical","x":720,"y":0.51,"lo":0.49,"hi":0.53},
{"t":"Medical","x":730,"y":0.531,"lo":0.51,"hi":0.55},
{"t":"Medical","x":740,"y":0.585,"lo":0.565,"hi":0.605},
{"t":"Medical","x":750,"y":0.628,"lo":0.61,"hi":0.645},
{"t":"Medical","x":760,"y":0.628,"lo":0.61,"hi":0.645},
{"t":"Medical","x":770,"y":0.642,"lo":0.625,"hi":0.66},
{"t":"Medical","x":780,"y":0.657,"lo":0.64,"hi":0.675},
{"t":"Medical","x":790,"y":0.625,"lo":0.61,"hi":0.64},
{"t":"Medical","x":800,"y":0.594,"lo":0.58,"hi":0.61},
{"t":"Medical","x":810,"y":0.611,"lo":0.595,"hi":0.625},
{"t":"Medical","x":820,"y":0.628,"lo":0.61,"hi":0.645},
{"t":"Medical","x":830,"y":0.611,"lo":0.595,"hi":0.625},
{"t":"Medical","x":840,"y":0.597,"lo":0.58,"hi":0.615}
]
},
"hconcat": [
{
"width": 577, "height": 307,
"title": {"text": "(a) SDFT", "orient": "bottom", "anchor": "middle", "frame": "bounds", "offset": 24},
"layer": [
{"data": {"name": "a"}, "mark": {"type": "area", "clip": true, "fillOpacity": 0.22, "strokeWidth": 0},
 "encoding": {
  "x": {"field": "x", "type": "quantitative", "title": "Gradient Steps", "scale": {"domain": [0, 712], "nice": false}, "axis": {"values": [0,100,200,300,400,500,600,700], "tickCount": 20, "labelPadding": 2, "titlePadding": 0, "labelOverlap": false}},
  "y": {"field": "lo", "type": "quantitative", "title": "Normalized Performance", "scale": {"domain": [-0.6, 1.0], "nice": false, "zero": false}, "axis": {"values": [-0.6,-0.4,-0.2,0,0.2,0.4,0.6,0.8,1.0], "tickCount": 20, "format": ".1f", "titlePadding": 0, "labelOverlap": false}},
  "y2": {"field": "hi"},
  "fill": {"field": "t", "type": "nominal", "scale": {"domain": ["Medical","Science Q&A","Tool Use"], "range": ["#2e6fc1","#5aa3c7","#55c6ea"]}, "legend": null}
 }},
{"data": {"name": "va"}, "mark": {"type": "rule", "strokeDash": [5,3], "color": "#7f7f7f", "strokeWidth": 1.5}, "encoding": {"x": {"field": "x", "type": "quantitative", "title": "Gradient Steps"}}},
{"data": {"name": "a"}, "mark": {"type": "line", "clip": true, "strokeWidth": 3.5, "strokeJoin": "round"},
 "encoding": {
  "x": {"field": "x", "type": "quantitative", "title": "Gradient Steps"},
  "y": {"field": "y", "type": "quantitative", "title": "Normalized Performance", "axis": {"values": [-0.6,-0.4,-0.2,0,0.2,0.4,0.6,0.8,1.0], "tickCount": 20, "format": ".1f", "titlePadding": 0, "labelOverlap": false}},
  "color": {"field": "t", "type": "nominal", "scale": {"domain": ["Tool Use","Science Q&A","Medical"], "range": ["#55c6ea","#5aa3c7","#2e6fc1"]}, "legend": {"title": null, "orient": "bottom-right"}}
 }},
{"data": {"name": "ra"}, "mark": {"type": "text", "baseline": "bottom", "dy": -4, "font": "DejaVu Sans", "fontSize": 13, "color": "black"},
 "encoding": {"x": {"field": "x", "type": "quantitative"}, "y": {"datum": 1}, "text": {"field": "l"}}}
]
},
{
"width": 580, "height": 307,
"title": {"text": "(b) SFT", "orient": "bottom", "anchor": "middle", "frame": "bounds", "offset": 24},
"layer": [
{"data": {"name": "b"}, "mark": {"type": "area", "clip": true, "fillOpacity": 0.22, "strokeWidth": 0},
 "encoding": {
  "x": {"field": "x", "type": "quantitative", "title": "Gradient Steps", "scale": {"domain": [0, 848], "nice": false}, "axis": {"values": [0,100,200,300,400,500,600,700,800], "tickCount": 20, "labelPadding": 2, "titlePadding": 0, "labelOverlap": false}},
  "y": {"field": "lo", "type": "quantitative", "title": "Normalized Performance", "scale": {"domain": [-0.6, 1.0], "nice": false, "zero": false}, "axis": {"values": [-0.6,-0.4,-0.2,0,0.2,0.4,0.6,0.8,1.0], "tickCount": 20, "format": ".1f", "titlePadding": 0, "labelOverlap": false}},
  "y2": {"field": "hi"},
  "fill": {"field": "t", "type": "nominal", "scale": {"domain": ["Medical","Science Q&A","Tool Use"], "range": ["#2e6fc1","#5aa3c7","#55c6ea"]}, "legend": null}
 }},
{"data": {"name": "vb"}, "mark": {"type": "rule", "strokeDash": [5,3], "color": "#7f7f7f", "strokeWidth": 1.5}, "encoding": {"x": {"field": "x", "type": "quantitative", "title": "Gradient Steps"}}},
{"data": {"name": "b"}, "mark": {"type": "line", "clip": true, "strokeWidth": 3.5, "strokeJoin": "round"},
 "encoding": {
  "x": {"field": "x", "type": "quantitative", "title": "Gradient Steps"},
  "y": {"field": "y", "type": "quantitative", "title": "Normalized Performance", "axis": {"values": [-0.6,-0.4,-0.2,0,0.2,0.4,0.6,0.8,1.0], "tickCount": 20, "format": ".1f", "titlePadding": 0, "labelOverlap": false}},
  "color": {"field": "t", "type": "nominal", "scale": {"domain": ["Tool Use","Science Q&A","Medical"], "range": ["#55c6ea","#5aa3c7","#2e6fc1"]}, "legend": {"title": null, "orient": "bottom-right"}}
 }},
{"data": {"name": "rb"}, "mark": {"type": "text", "baseline": "bottom", "dy": -4, "font": "DejaVu Sans", "fontSize": 13, "color": "black"},
 "encoding": {"x": {"field": "x", "type": "quantitative"}, "y": {"datum": 1}, "text": {"field": "l"}}}
]
}
]
}
